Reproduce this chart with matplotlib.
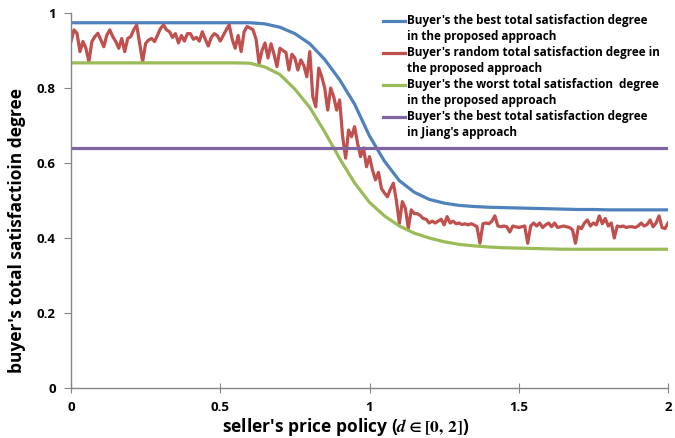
import numpy as np
import matplotlib
matplotlib.use("Agg")
import matplotlib.pyplot as plt

# price policy grid: red series sampled every 0.01, smooth bounds every 0.05
d_fine = np.round(np.arange(0, 201) * 0.01, 2)
d_coarse = np.round(np.arange(0, 41) * 0.05, 2)

best_proposed = [
    0.974, 0.974, 0.974, 0.974, 0.974, 0.974, 0.974, 0.974, 0.974, 0.974,
    0.974, 0.974, 0.974, 0.971, 0.962, 0.945, 0.918, 0.876, 0.822, 0.757,
    0.672, 0.605, 0.553, 0.522, 0.503, 0.493, 0.487, 0.484, 0.482, 0.481,
    0.480, 0.479, 0.478, 0.477, 0.476, 0.476, 0.475, 0.475, 0.475, 0.475,
    0.475,
]

worst_proposed = [
    0.867, 0.867, 0.867, 0.867, 0.867, 0.867, 0.867, 0.867, 0.867, 0.867,
    0.867, 0.867, 0.866, 0.856, 0.836, 0.797, 0.748, 0.683, 0.612, 0.547,
    0.495, 0.459, 0.432, 0.413, 0.400, 0.390, 0.383, 0.379, 0.376, 0.374,
    0.373, 0.372, 0.371, 0.370, 0.370, 0.370, 0.370, 0.370, 0.370, 0.370,
    0.370,
]

random_proposed = [
    0.924, 0.955, 0.946, 0.897, 0.924, 0.906, 0.870, 0.924, 0.937, 0.946,
    0.928, 0.910, 0.941, 0.955, 0.937, 0.924, 0.906, 0.932, 0.897, 0.932,
    0.937, 0.955, 0.968, 0.919, 0.870, 0.919, 0.928, 0.932, 0.924, 0.941,
    0.959, 0.968, 0.955, 0.950, 0.935, 0.945, 0.920, 0.940, 0.925, 0.945,
    0.945, 0.930, 0.935, 0.925, 0.950, 0.930, 0.912, 0.935, 0.945, 0.940,
    0.925, 0.940, 0.955, 0.968, 0.930, 0.906, 0.940, 0.897, 0.950, 0.964,
    0.960, 0.955, 0.930, 0.866, 0.900, 0.920, 0.880, 0.918, 0.890, 0.857,
    0.906, 0.900, 0.895, 0.848, 0.890, 0.880, 0.848, 0.875, 0.860, 0.830,
    0.897, 0.777, 0.750, 0.853, 0.830, 0.800, 0.741, 0.800, 0.777, 0.741,
    0.768, 0.670, 0.613, 0.688, 0.670, 0.697, 0.653, 0.617, 0.640, 0.590,
    0.617, 0.581, 0.555, 0.575, 0.532, 0.520, 0.510, 0.530, 0.546, 0.500,
    0.439, 0.497, 0.480, 0.426, 0.475, 0.465, 0.465, 0.460, 0.452, 0.450,
    0.440, 0.445, 0.440, 0.445, 0.450, 0.435, 0.457, 0.440, 0.445, 0.438,
    0.440, 0.436, 0.438, 0.435, 0.438, 0.435, 0.430, 0.386, 0.438, 0.440,
    0.438, 0.445, 0.459, 0.432, 0.430, 0.432, 0.430, 0.416, 0.432, 0.430,
    0.428, 0.430, 0.432, 0.386, 0.432, 0.440, 0.432, 0.440, 0.428, 0.435,
    0.440, 0.430, 0.440, 0.428, 0.430, 0.432, 0.430, 0.428, 0.422, 0.386,
    0.430, 0.425, 0.440, 0.448, 0.432, 0.440, 0.435, 0.459, 0.438, 0.452,
    0.432, 0.440, 0.400, 0.432, 0.430, 0.432, 0.428, 0.430, 0.430, 0.428,
    0.432, 0.440, 0.432, 0.436, 0.448, 0.430, 0.440, 0.459, 0.428, 0.425,
    0.440,
]

jiang_best = 0.64

labels = [
    ("Buyer's the best total satisfaction degree", "in the proposed approach"),
    ("Buyer's random total satisfaction degree in", "the proposed approach"),
    ("Buyer's the worst total satisfaction  degree", "in the proposed approach"),
    ("Buyer's the best total satisfaction degree", "in Jiang's approach"),
]
colors = ["#4F81BD", "#C0504D", "#9BBB59", "#8064A2"]

x_ticks = [0, 0.5, 1, 1.5, 2]
x_ticklabels = ["0", "0.5", "1", "1.5", "2"]
y_ticks = [0, 0.2, 0.4, 0.6, 0.8, 1]
y_ticklabels = ["0", "0.2", "0.4", "0.6", "0.8", "1"]

plt.rcParams['font.family'] = ['Open Sans', 'DejaVu Sans']
plt.rcParams['font.weight'] = 'bold'
plt.rcParams['mathtext.fontset'] = 'stix'

W, H = 675, 438
fig = plt.figure(figsize=(W / 100, H / 100), dpi=100)
ax = fig.add_axes([71 / W, 1 - 388 / H, (668 - 71) / W, (388 - 13) / H])

lw = 2.3
ax.plot(d_coarse, best_proposed, color=colors[0], lw=lw, solid_capstyle='round')
ax.plot(d_fine, random_proposed, color=colors[1], lw=lw, solid_joinstyle='round')
ax.plot(d_coarse, worst_proposed, color=colors[2], lw=lw, solid_capstyle='round')
ax.axhline(jiang_best, color=colors[3], lw=lw)

ax.set_xlim(0, 2)
ax.set_ylim(0, 1)
for side in ('top', 'right'):
    ax.spines[side].set_visible(False)
for side in ('left', 'bottom'):
    ax.spines[side].set_color('#868686')
    ax.spines[side].set_linewidth(1.0)

ax.set_xticks(x_ticks)
ax.set_xticklabels(x_ticklabels)
ax.set_yticks(y_ticks)
ax.set_yticklabels(y_ticklabels)
ax.tick_params(axis='x', direction='inout', length=7, color='#868686', pad=6, labelsize=9.5)
ax.tick_params(axis='y', direction='out', length=5, color='#868686', pad=6, labelsize=9.5)

ax.set_xlabel(r"seller's price policy ($d \in [0,\,2]$)", fontsize=12.5, fontweight='bold', labelpad=2)
ax.xaxis.set_label_coords(0.46, -0.075)
ax.set_ylabel("buyer's total satisfactioin degree", fontsize=12.5, fontweight='bold')
ax.yaxis.set_label_coords(-0.075, 0.42)

# legend: handle sits beside the first of two text lines
for i, (first, second) in enumerate(labels):
    y0 = 20.7 + 32 * i
    fig.add_artist(plt.Line2D([383 / W, 405 / W], [1 - y0 / H, 1 - y0 / H],
                              color=colors[i], lw=lw))
    fig.text(407 / W, 1 - y0 / H, first, fontsize=8.5, fontweight='bold', va='center')
    fig.text(407 / W, 1 - (y0 + 16) / H, second, fontsize=8.5, fontweight='bold', va='center')

fig.savefig("out.png", dpi=100)
